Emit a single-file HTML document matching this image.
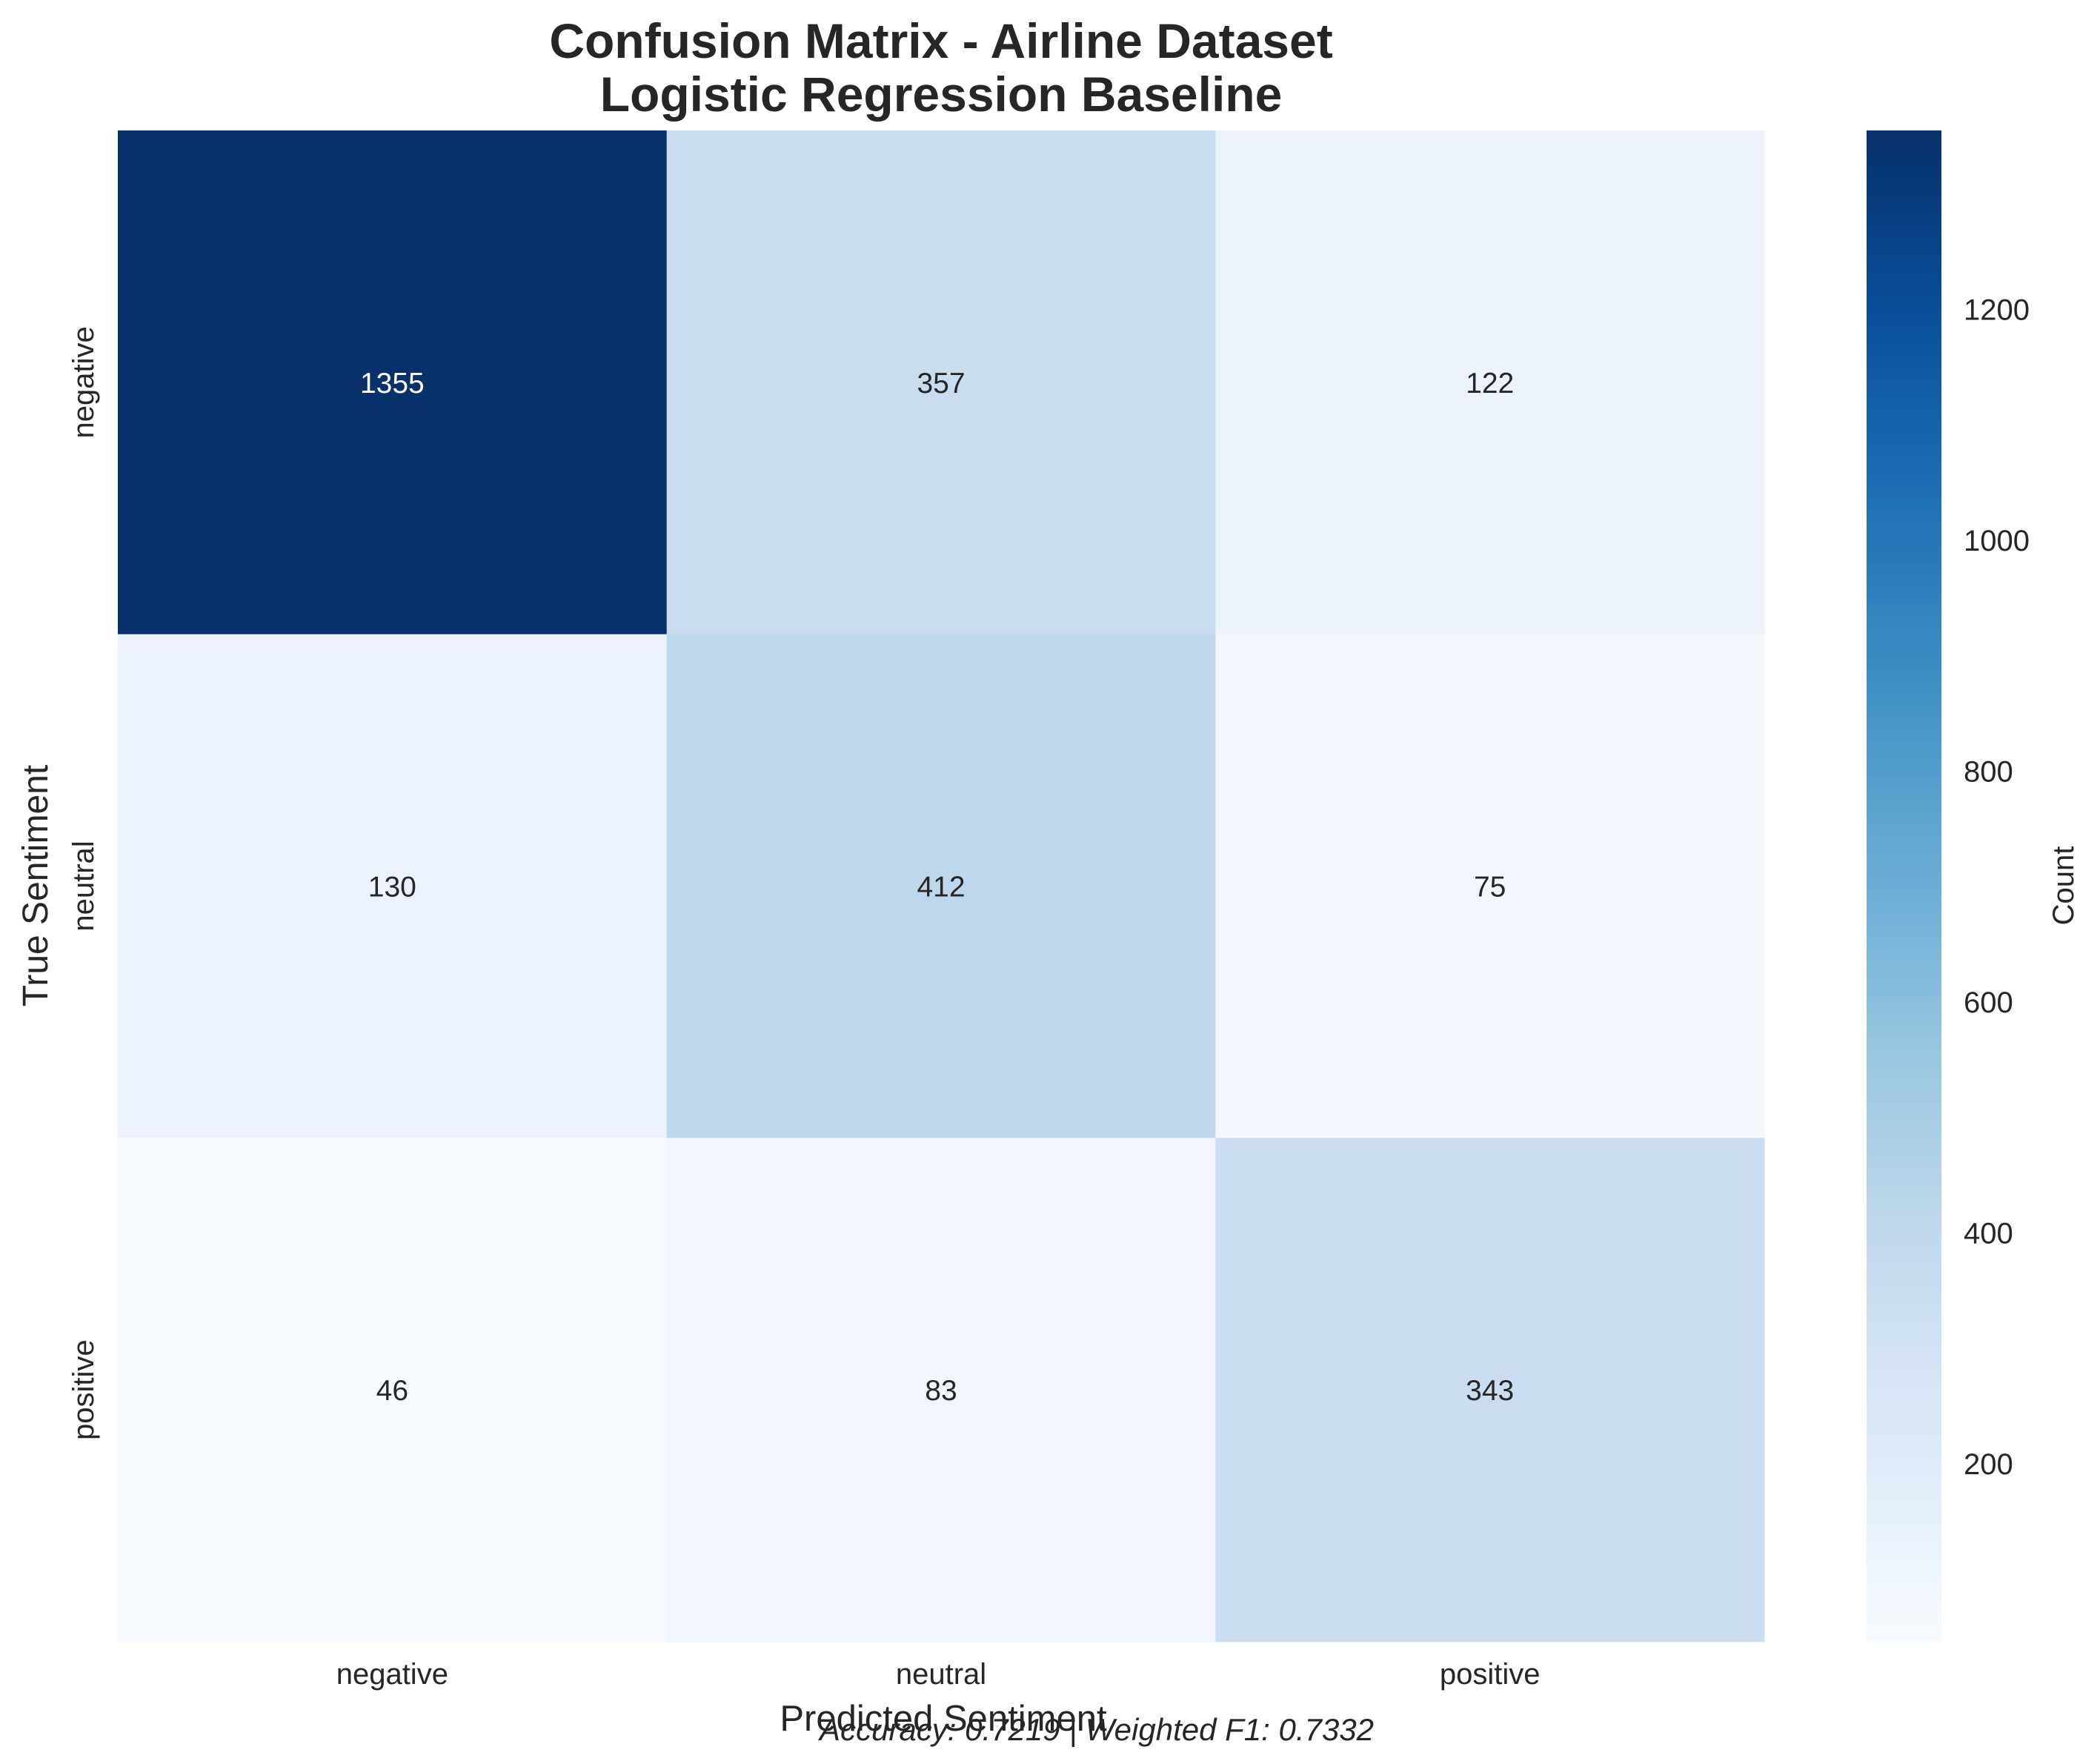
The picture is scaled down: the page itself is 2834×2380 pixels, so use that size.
<!DOCTYPE html>
<html><head><meta charset="utf-8"><style>
body{margin:0;background:#fff}
svg{display:block;font-family:"Liberation Sans",Arial,sans-serif}
</style></head><body>
<svg id="chart" width="2834" height="2380" viewBox="0 0 2834 2380">
<defs><linearGradient id="cbgrad" x1="0" y1="1" x2="0" y2="0"></linearGradient></defs>
<text x="1270" y="78" text-anchor="middle" font-size="66" font-weight="bold" fill="#262626">Confusion Matrix - Airline Dataset</text>
<text x="1270" y="150" text-anchor="middle" font-size="66" font-weight="bold" fill="#262626">Logistic Regression Baseline</text>
<g id="cells"></g>
<g id="labels"></g>
<rect x="2519" y="176" width="101" height="2039" fill="url(#cbgrad)"/>
<g id="cbticks"></g>
<text transform="translate(2798,1195) rotate(-90)" text-anchor="middle" font-size="40" fill="#262626">Count</text>
<text transform="translate(64,1195) rotate(-90)" text-anchor="middle" font-size="48" fill="#262626">True Sentiment</text>
<text x="1273" y="2335" text-anchor="middle" font-size="49" fill="#262626">Predicted Sentiment</text>
<text x="1480" y="2348" text-anchor="middle" font-size="42" font-style="italic" fill="#262626">Accuracy: 0.7219 | Weighted F1: 0.7332</text>
</svg>
<script>
const categories=["negative","neutral","positive"];
const rowNegative=[1355,357,122];
const rowNeutral=[130,412,75];
const rowPositive=[46,83,343];
const cbTicks=[200,400,600,800,1000,1200];
const matrix=[rowNegative,rowNeutral,rowPositive];
const NS="http://www.w3.org/2000/svg";
const X0=159,X1=2381,Y0=176,Y1=2215;
const all=matrix.flat(),vmin=Math.min(...all),vmax=Math.max(...all);
const cw=(X1-X0)/categories.length,ch=(Y1-Y0)/categories.length;
const stops=["#f7fbff","#deebf7","#c6dbef","#9ecae1","#6baed6","#4292c6","#2171b5","#08519c","#08306b"];
function hx(c){return[1,3,5].map(i=>parseInt(c.substr(i,2),16));}
function cmap(t){t=Math.max(0,Math.min(1,t));const p=t*8,i=Math.min(7,Math.floor(p)),f=p-i;const a=hx(stops[i]),b=hx(stops[i+1]);return"rgb("+a.map((v,k)=>Math.round(v+(b[k]-v)*f)).join(",")+")";}
function norm(v){return(v-vmin)/(vmax-vmin);}
function mk(tag,attrs,parent){const e=document.createElementNS(NS,tag);for(const k in attrs)e.setAttribute(k,attrs[k]);parent.appendChild(e);return e;}
const cells=document.getElementById("cells"),labels=document.getElementById("labels");
matrix.forEach((row,r)=>row.forEach((v,c)=>{
 const t=norm(v);
 const rect=mk("rect",{x:X0+c*cw,y:Y0+r*ch,width:cw+0.5,height:ch+0.5,fill:cmap(t)},cells);
 
 
 const tx=mk("text",{x:X0+(c+0.5)*cw,y:Y0+(r+0.5)*ch+14,"text-anchor":"middle","font-size":"39",fill:t>0.5?"#ffffff":"#262626"},cells);
 tx.textContent=v;
 
 
}));
categories.forEach((c,i)=>{
 const xl=mk("text",{x:X0+(i+0.5)*cw,y:2272,"text-anchor":"middle","font-size":"40",fill:"#262626"},labels);
 xl.textContent=c;
 
 
 const yy=Y0+(i+0.5)*ch;
 const yl=mk("text",{transform:"translate(126,"+yy+") rotate(-90)","text-anchor":"middle","font-size":"40",fill:"#262626"},labels);
 yl.textContent=c;
 
 
});
const g=document.getElementById("cbgrad");
for(let i=0;i<=20;i++){mk("stop",{offset:(i/20),"stop-color":cmap(i/20)},g);}
const cbt=document.getElementById("cbticks");
cbTicks.forEach(v=>{
 const y=Y1-norm(v)*(Y1-Y0);
 const t=mk("text",{x:2650,y:y+14,"font-size":"40",fill:"#262626"},cbt);
 t.textContent=v;
 
 
});
</script>
</body></html>
